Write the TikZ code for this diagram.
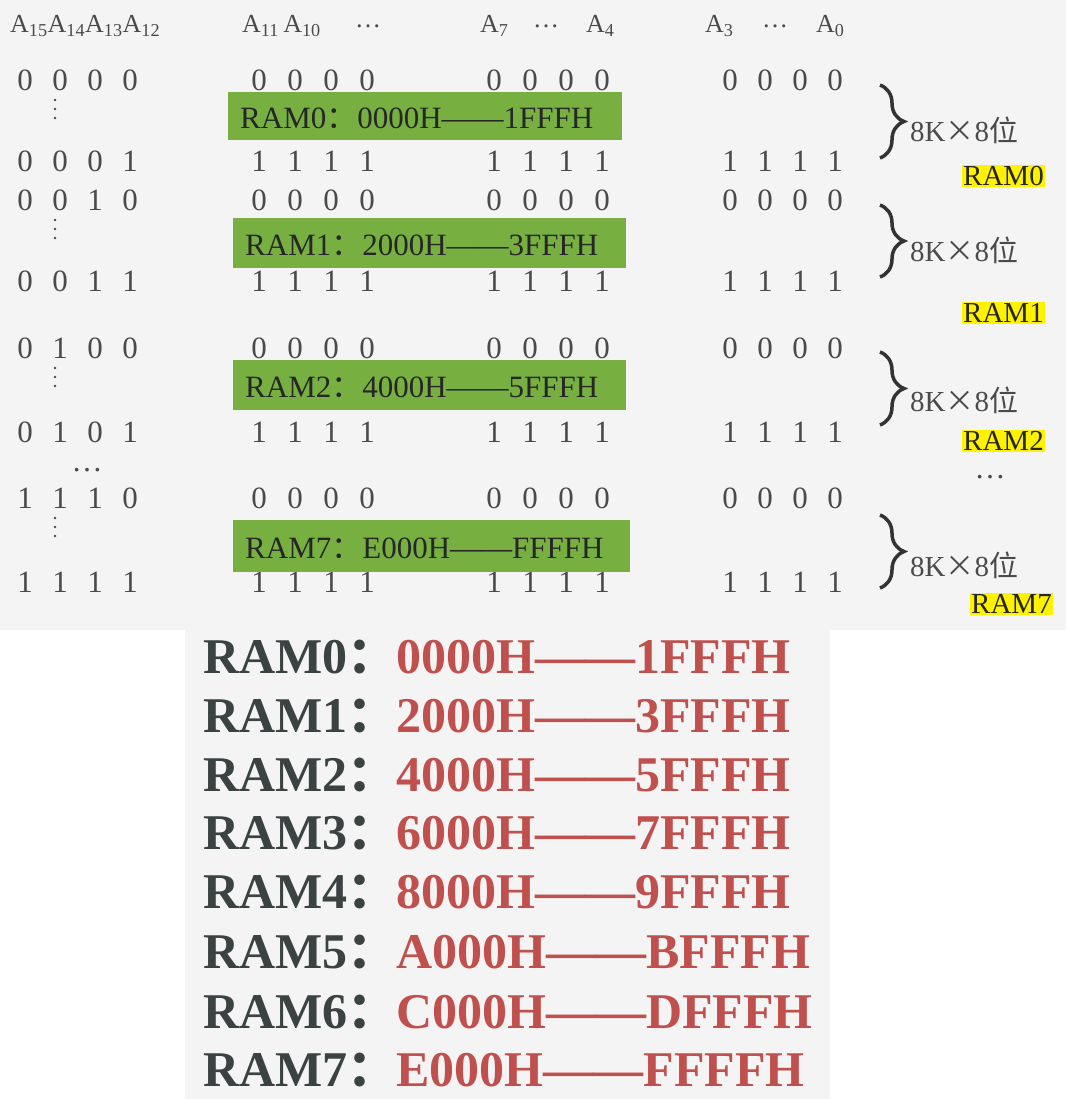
\documentclass[tikz,border=0pt]{standalone}
\usepackage{fontspec}
\setmainfont{Liberation Serif}
\newfontfamily\cjk{Noto Sans CJK SC}
\usetikzlibrary{decorations.pathreplacing}
\definecolor{bggray}{HTML}{F4F4F4}
\definecolor{gbox}{HTML}{77B041}
\definecolor{txt}{HTML}{4A4A4A}
\definecolor{dk}{HTML}{3A4242}
\definecolor{rd}{HTML}{C0504D}
\definecolor{hl}{HTML}{FFF200}
\begin{document}
\begin{tikzpicture}[x=1pt,y=-1pt,
  dg/.style={text=txt,font=\fontsize{31}{31}\selectfont,inner sep=0pt},
  hd/.style={text=txt,font=\fontsize{26}{26}\selectfont,inner sep=0pt,anchor=west},
  gb/.style={fill=gbox,inner sep=0pt},
  gt/.style={text=black!85,font=\fontsize{31}{31}\selectfont,inner sep=0pt,anchor=west},
  br/.style={decorate,decoration={brace,amplitude=24pt},line width=3.5pt,draw=black!80},
  kb/.style={text=txt,font=\fontsize{29}{29}\selectfont,inner sep=0pt,anchor=west},
  yl/.style={fill=hl,text=black!85,font=\fontsize{29}{29}\selectfont,inner sep=1pt,anchor=west},
  lf/.style={text=dk,font=\bfseries\fontsize{50}{50}\selectfont,inner sep=0pt,anchor=west},
  rf/.style={text=rd,font=\bfseries\fontsize{50}{50}\selectfont,inner sep=0pt,anchor=west}]
\useasboundingbox (0,0) rectangle (1066,1099);
\fill[white] (0,0) rectangle (1066,1099);
\fill[bggray] (0,0) rectangle (1066,630);
\fill[bggray] (185,630) rectangle (830,1099);
% header
\node[hd] (h1) at (10,26) {A\textsubscript{15}A\textsubscript{14}A\textsubscript{13}A\textsubscript{12}};
\node[hd] (h2) at (242,26) {A\textsubscript{11}\,A\textsubscript{10}};
\node[hd] (h3) at (355,26) {\dots};
\node[hd] (h4) at (480,26) {A\textsubscript{7}};
\node[hd] (h5) at (533,26) {\dots};
\node[hd] (h6) at (586,26) {A\textsubscript{4}};
\node[hd] (h7) at (705,26) {A\textsubscript{3}};
\node[hd] (h8) at (762,26) {\dots};
\node[hd] (h9) at (816,26) {A\textsubscript{0}};
% digits
\def\rowd#1#2#3#4#5#6{%
  \foreach \v [count=\i] in {#2} {\pgfmathsetmacro\xx{25+35*(\i-1)}\node[dg] (g1-#1-\i) at (\xx,#6) {\v};}
  \foreach \v [count=\i] in {#3} {\pgfmathsetmacro\xx{259+36*(\i-1)}\node[dg] (g2-#1-\i) at (\xx,#6) {\v};}
  \foreach \v [count=\i] in {#4} {\pgfmathsetmacro\xx{494+36*(\i-1)}\node[dg] (g3-#1-\i) at (\xx,#6) {\v};}
  \foreach \v [count=\i] in {#5} {\pgfmathsetmacro\xx{730+35*(\i-1)}\node[dg] (g4-#1-\i) at (\xx,#6) {\v};}}
\rowd{a}{0,0,0,0}{0,0,0,0}{0,0,0,0}{0,0,0,0}{80}
\rowd{b}{0,0,0,1}{1,1,1,1}{1,1,1,1}{1,1,1,1}{161}
\rowd{c}{0,0,1,0}{0,0,0,0}{0,0,0,0}{0,0,0,0}{200}
\rowd{d}{0,0,1,1}{1,1,1,1}{1,1,1,1}{1,1,1,1}{281}
\rowd{e}{0,1,0,0}{0,0,0,0}{0,0,0,0}{0,0,0,0}{348}
\rowd{f}{0,1,0,1}{1,1,1,1}{1,1,1,1}{1,1,1,1}{432}
\rowd{g}{1,1,1,0}{0,0,0,0}{0,0,0,0}{0,0,0,0}{498}
\rowd{h}{1,1,1,1}{1,1,1,1}{1,1,1,1}{1,1,1,1}{582}
% vertical dots
\foreach \y [count=\k] in {100,220,368,518} {
  \fill[txt] (55,\y) circle (1.4) (55,\y+9) circle (1.4) (55,\y+18) circle (1.4);}
\node[dg] (d1) at (87,470) {\dots};
\node[dg] (d2) at (990,477) {\dots};
% green boxes
\node[gb,minimum width=394,minimum height=48] (b0) at (425,116) {};
\node[gt] (t0) at (240,118) {RAM0{\cjk ：}0000H——1FFFH};
\node[gb,minimum width=393,minimum height=50] (b1) at (429.5,243) {};
\node[gt] (t1) at (245,245) {RAM1{\cjk ：}2000H——3FFFH};
\node[gb,minimum width=393,minimum height=50] (b2) at (429.5,385) {};
\node[gt] (t2) at (245,387) {RAM2{\cjk ：}4000H——5FFFH};
\node[gb,minimum width=397,minimum height=52] (b3) at (431.5,546) {};
\node[gt] (t3) at (245,548) {RAM7{\cjk ：}E000H——FFFFH};
% braces
\foreach \a/\b/\l/\r/\ry/\rx [count=\k] in {85/158/130/RAM0/176/962,205/277/250/RAM1/313/962,352/425/400/RAM2/441/962,515/588/565/RAM7/604/970} {
  \draw[br] (880,\a) -- (880,\b);
  \node[kb] (k\k) at (910,\l) {8K{\cjk ×}8{\cjk 位}};
  \node[yl] (y\k) at (\rx,\ry) {\r};}
% bottom list
\foreach \n/\s/\e/\y [count=\k] in {0/0000H/1FFFH/657,1/2000H/3FFFH/716,2/4000H/5FFFH/775,3/6000H/7FFFH/833,4/8000H/9FFFH/892,5/A000H/BFFFH/952,6/C000H/DFFFH/1012,7/E000H/FFFFH/1070} {
  \node[lf] (l\k) at (203,\y) {RAM\n{\cjk ：}};
  \node[rf] (r\k) at (396,\y) {\s——\e};}
\end{tikzpicture}
\end{document}
